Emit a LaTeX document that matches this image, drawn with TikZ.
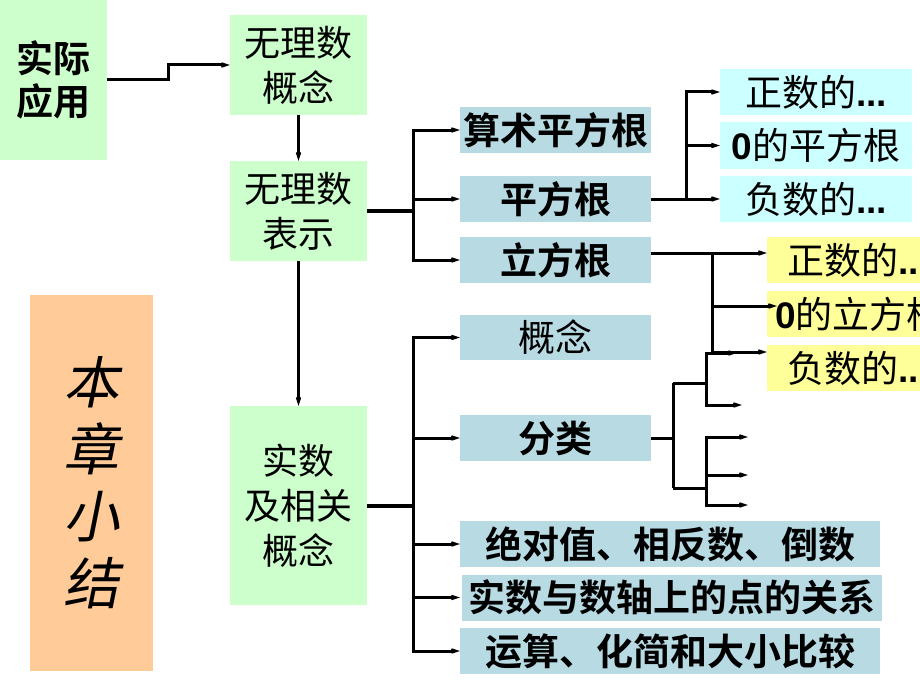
\documentclass[tikz,border=0pt]{standalone}
\usepackage{fontspec}
\usetikzlibrary{arrows.meta}
\newfontfamily\cjk{Noto Sans CJK SC}[BoldFont={Noto Sans CJK SC Bold}]
\newfontfamily\cjkit{Noto Sans CJK SC}[FakeSlant=0.2]
\newfontfamily\lat{Liberation Sans}
\definecolor{grn}{HTML}{CCFFCC}
\definecolor{blu}{HTML}{B7DAE3}
\definecolor{cyn}{HTML}{CCFFFF}
\definecolor{ylw}{HTML}{FFFF99}
\definecolor{slm}{HTML}{FFCC99}
\begin{document}
\begin{tikzpicture}[x=1pt,y=-1pt,
  box/.style={inner sep=0pt, outer sep=0pt, align=center},
  gbox/.style={box, fill=grn, minimum width=137pt, font=\cjk\fontsize{36}{45}\selectfont},
  bbox/.style={box, fill=blu, minimum width=191pt, minimum height=46pt, font=\cjk\bfseries\fontsize{37}{40}\selectfont},
  cbox/.style={box, fill=cyn, minimum width=192pt, minimum height=46pt, font=\cjk\fontsize{37}{40}\selectfont},
  ybox/.style={box, fill=ylw, text width=170pt, inner xsep=20pt, minimum height=46pt, align=left, font=\cjk\fontsize{37}{40}\selectfont},
  arr/.style={line width=3pt, -{Stealth[length=17pt,width=11pt,inset=10pt]}},
  ln/.style={line width=3pt},
  stem/.style={line width=4pt}]
\useasboundingbox (0,0) rectangle (920,690);

% green boxes
\node[gbox, minimum width=107pt, minimum height=160pt, font=\cjk\bfseries\fontsize{37}{43}\selectfont] (app) at (53.5,80) {实际\\应用};
\node[gbox, minimum height=100pt] (concept) at (298.5,65) {无理数\\概念};
\node[gbox, minimum height=100pt] (repr) at (298.5,211) {无理数\\表示};
\node[gbox, minimum height=199pt] (real) at (298.5,505.5) {实数\\及相关\\概念};
\node[box, fill=slm, minimum width=123pt, minimum height=376pt, font=\cjkit\fontsize{56}{67}\selectfont] (sum) at (91.5,483) {本\\章\\小\\结};

% blue boxes
\node[bbox] (sqrtA) at (555.5,130) {算术平方根};
\node[bbox] (sqrt) at (555.5,199) {平方根};
\node[bbox] (cube) at (555.5,260) {立方根};
\node[bbox, minimum height=45pt, font=\cjk\fontsize{37}{40}\selectfont] (gn) at (555.5,337.5) {概念};
\node[bbox] (fl) at (555.5,438) {分类};
\node[bbox, minimum width=420pt] (abs) at (670,544) {绝对值、相反数、倒数};
\node[bbox, minimum width=420pt] (axis) at (672,597.5) {实数与数轴上的点的关系};
\node[bbox, minimum width=420pt] (calc) at (670,651) {运算、化简和大小比较};

% cyan boxes
\node[cbox] (c1) at (816,92) {正数的{\lat\bfseries ...}};
\node[cbox] (c2) at (816,145.5) {\textbf{\lat 0}的平方根};
\node[cbox] (c3) at (816,199) {负数的{\lat\bfseries ...}};

% yellow boxes
\node[ybox] (y1) at (872,260) {正数的{\lat\bfseries ...}};
\node[ybox] (y2) at (872,314) {\hspace*{-12pt}{\lat\bfseries 0}的立方根};
\node[ybox] (y3) at (872,368) {负数的{\lat\bfseries ...}};

% connectors
\draw[arr] (app.east) -- ++(61,0) |- (concept.west);
\draw[arr] (concept.south) -- (repr.north);
\draw[arr] (repr.south) -- (real.north);

\draw[stem] (repr.east) -- ++(46,0) coordinate (j1);
\draw[arr] (j1) |- (sqrtA.west);
\draw[arr] (j1) |- (sqrt.west);
\draw[arr] (j1) |- (cube.west);

\draw[stem] (real.east) -- ++(46,0) coordinate (j2);
\draw[arr] (j2) |- (gn.west);
\draw[arr] (j2) |- (fl.west);
\draw[arr] (j2) |- (abs.west);
\draw[arr] (j2) |- ([xshift=-2pt]axis.west);
\draw[arr] (j2) |- (calc.west);

\draw[ln] (sqrt.east) -- ++(35,0) coordinate (j3);
\draw[arr] (j3) |- (c1.west);
\draw[arr] (j3) |- (c2.west);
\draw[arr] (j3) -- (c3.west);

\draw[arr] ([yshift=7pt]cube.east) -- ([yshift=7pt]y1.west);
\coordinate (j4) at (712,253);
\draw[arr] (j4) |- ([xshift=10pt,yshift=8pt]y2.west);
\draw[arr] (j4) |- ([yshift=16pt]y3.west);

\draw[ln] (fl.east) -- ++(22,0) coordinate (k0);
\coordinate (k1) at (673,383);
\coordinate (k2) at (673,488);
\coordinate (t1) at (706,383);
\coordinate (t2) at (706,488);
\coordinate (e1) at (737,353);
\coordinate (e2) at (742,405);
\coordinate (e3) at (748,437);
\coordinate (e4) at (748,475);
\coordinate (e5) at (748,505);
\draw[ln] (k1) -- (k2);
\draw[ln] (k1) -- (t1);
\draw[ln] (k2) -- (t2);
\draw[arr] (t1) |- (e1);
\draw[arr] (t1) |- (e2);
\draw[arr] (t2) |- (e3);
\draw[arr] (t2) |- (e4);
\draw[arr] (t2) |- (e5);
\end{tikzpicture}
\end{document}
